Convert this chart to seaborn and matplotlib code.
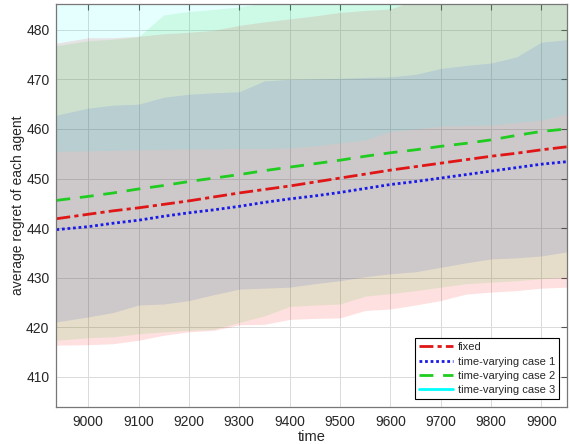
import matplotlib
matplotlib.use("Agg")
import matplotlib.pyplot as plt
import seaborn as sns
import numpy as np
import pandas as pd

# time steps
time = [8937, 9000, 9050, 9100, 9150, 9200, 9250, 9300, 9350, 9400, 9450,
        9500, 9550, 9600, 9650, 9700, 9750, 9800, 9850, 9900, 9950]

# mean regret per setting
fixed_mean = [441.9, 442.8, 443.5, 444.1, 444.8, 445.5, 446.3, 447.1, 447.8, 448.5, 449.3,
              450.1, 450.9, 451.7, 452.4, 453.1, 453.8, 454.5, 455.1, 455.8, 456.4]
case1_mean = [439.7, 440.3, 441.0, 441.6, 442.4, 443.1, 443.7, 444.4, 445.2, 445.9, 446.5,
              447.2, 448.0, 448.8, 449.4, 450.1, 450.8, 451.5, 452.2, 452.9, 453.4]
case2_mean = [445.6, 446.4, 447.1, 447.9, 448.6, 449.4, 450.1, 450.8, 451.6, 452.3, 453.0,
              453.7, 454.5, 455.2, 455.8, 456.5, 457.1, 457.8, 458.7, 459.5, 460.0]
case3_mean = [489.0, 489.7, 490.4, 491.1, 491.8, 492.5, 493.2, 493.9, 494.6, 495.3, 496.0,
              496.7, 497.4, 498.1, 498.8, 499.5, 500.2, 500.9, 501.6, 502.3, 503.0]

# shaded ranges
fixed_lo = [416.4, 416.5, 416.7, 417.4, 418.4, 419.1, 419.4, 420.5, 420.6, 421.6, 421.8,
            421.9, 423.4, 423.7, 424.5, 425.4, 426.7, 427.1, 427.4, 427.9, 428.1]
fixed_hi = [477.3, 478.4, 478.4, 478.7, 479.2, 479.5, 479.9, 480.9, 481.6, 482.2, 482.8,
            483.5, 483.9, 484.2, 486.0, 487.0, 487.5, 488.0, 488.4, 488.8, 489.0]
case1_lo = [421.1, 422.1, 423.0, 424.5, 424.7, 425.4, 426.6, 427.7, 427.9, 428.1, 428.8,
            429.4, 430.2, 430.8, 431.2, 432.1, 433.0, 433.8, 434.0, 434.4, 435.2]
case1_hi = [462.8, 464.2, 464.8, 465.0, 466.4, 467.0, 467.3, 467.5, 469.7, 470.0, 470.1,
            470.2, 470.4, 470.5, 471.0, 472.2, 472.8, 473.3, 474.5, 477.5, 478.0]
case2_lo = [417.4, 417.9, 418.1, 418.7, 419.1, 419.4, 419.6, 421.0, 422.3, 424.2, 424.5,
            424.7, 426.3, 426.8, 427.4, 428.1, 428.8, 429.1, 429.4, 429.8, 430.1]
case2_hi = [476.8, 477.8, 478.1, 478.6, 483.0, 483.7, 484.1, 484.6, 485.5, 486.5, 487.2,
            487.8, 488.4, 489.0, 489.5, 490.0, 490.5, 491.0, 491.4, 491.8, 492.0]
case3_lo = [455.5, 455.6, 455.7, 455.8, 455.9, 456.0, 456.0, 456.1, 456.1, 456.2, 456.6,
            457.2, 457.8, 459.5, 460.0, 460.6, 460.7, 460.8, 461.3, 461.8, 463.0]
case3_hi = [520.0] * len(time)

labels = ["fixed", "time-varying case 1", "time-varying case 2", "time-varying case 3"]
colors = ["#e01515", "#1a1ae6", "#1fcc1f", "#00ffff"]
styles = [(0, (5, 1.5, 1.5, 1.5)), (0, (1, 1)), (0, (5, 3.5)), "-"]

means = [fixed_mean, case1_mean, case2_mean, case3_mean]
lows = [fixed_lo, case1_lo, case2_lo, case3_lo]
highs = [fixed_hi, case1_hi, case2_hi, case3_hi]

sns.set_style("whitegrid")
plt.rcParams["font.family"] = ["Liberation Sans", "DejaVu Sans"]

fig, ax = plt.subplots(figsize=(5.7, 4.44), dpi=100)
fig.subplots_adjust(left=0.099, right=0.994, top=0.991, bottom=0.084)

# shaded bands first, lines on top
fill_colors = ["#ff0000", "#0000ff", "#00cc00", "#00ffff"]
fill_alpha = [0.12, 0.10, 0.10, 0.10]
for lo, hi, fc, a in zip(lows, highs, fill_colors, fill_alpha):
    ax.fill_between(time, lo, hi, color=fc, alpha=a, linewidth=0)

for m, lab, c, ls in zip(means, labels, colors, styles):
    sns.lineplot(x=time, y=m, ax=ax, color=c, linestyle=ls, linewidth=2, label=lab)

ax.set_xlim(8937, 9950)
ax.set_ylim(404, 485.2)
ax.set_xticks(range(9000, 10000, 100))
ax.set_yticks(range(410, 490, 10))
ax.set_xlabel("time", fontsize=10.5, labelpad=1)
ax.set_ylabel("average regret of each agent", fontsize=10, labelpad=1)
ax.tick_params(axis="both", labelsize=10, direction="in", length=4, color="#555555",
               top=True, right=True, pad=6)
ax.tick_params(axis="y", pad=5)
ax.grid(True, color="#dadada", linewidth=0.7)
for s in ax.spines.values():
    s.set_color("#777777")
    s.set_linewidth(0.9)

leg = ax.legend(loc="lower right", fontsize=8, frameon=True, fancybox=False,
                edgecolor="black", handlelength=3.1, borderpad=0.35, labelspacing=0.38,
                handletextpad=0.4, borderaxespad=0.7)
leg.get_frame().set_linewidth(0.8)
leg.get_frame().set_alpha(1)

fig.savefig("out.png", dpi=100)
